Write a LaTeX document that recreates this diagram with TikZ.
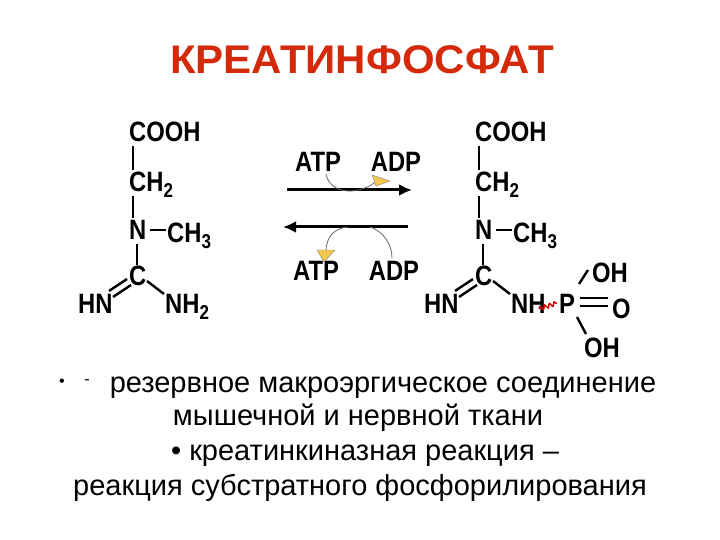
\documentclass[tikz,border=0pt]{standalone}
\usepackage{fontspec}
\setmainfont{Liberation Sans}
\usetikzlibrary{arrows.meta,decorations.pathmorphing}
\definecolor{ttl}{HTML}{D42A0A}
\definecolor{ylw}{HTML}{F2C94C}
\newcommand{\sbs}[1]{\raisebox{-6pt}{\fontsize{20}{22}\selectfont #1}}
\tikzset{
 chem/.style={font=\bfseries\fontsize{28}{30}\selectfont, xscale=0.85, inner sep=0pt, anchor=base west},
 bond/.style={line width=2.4pt},
 body/.style={font=\fontsize{29}{32}\selectfont, inner sep=0pt, anchor=base},
 rxn/.style={line width=3pt, -{Latex[length=13pt,width=12pt]}},
 curv/.style={draw=black!60, line width=0.8pt, fill=none},
}
\begin{document}
\begin{tikzpicture}[x=1pt,y=-1pt]
\useasboundingbox (0,0) rectangle (720,540);
\node[font=\bfseries\fontsize{40}{44}\selectfont, text=ttl, xscale=1.05] (title) at (362,60) {КРЕАТИНФОСФАТ};
% left molecule
\node[chem] (c1) at (129,142) {COOH};
\node[chem] (c2) at (129,192) {CH\sbs{2}};
\node[chem] (n1) at (129,240) {N};
\node[chem] (m1) at (167,242) {CH\sbs{3}};
\node[chem] (cc1) at (129,285) {C};
\node[chem] (hn1) at (78,313) {HN};
\node[chem] (nh1) at (165,313) {NH\sbs{2}};
\draw[bond] (133,146) -- (133,170);
\draw[bond] (133,196) -- (133,218);
\draw[bond] (150,230) -- (166,230);
\draw[bond] (137,244) -- (137,265);
\draw[bond] (109,291) -- (127,279);
\draw[bond] (113,297) -- (131,285);
\draw[bond] (147,281) -- (164,294);
% right molecule
\node[chem] (c3) at (475,142) {COOH};
\node[chem] (c4) at (475,192) {CH\sbs{2}};
\node[chem] (n2) at (475,240) {N};
\node[chem] (m2) at (513,242) {CH\sbs{3}};
\node[chem] (cc2) at (475,285) {C};
\node[chem] (hn2) at (424,313) {HN};
\node[chem] (nh2) at (511,313) {NH};
\node[chem] (p) at (559,313) {P};
\node[chem] (oh1) at (592,282) {OH};
\node[chem] (o) at (612,318) {O};
\node[chem] (oh2) at (584,357) {OH};
\draw[bond] (479,146) -- (479,170);
\draw[bond] (479,196) -- (479,218);
\draw[bond] (496,230) -- (512,230);
\draw[bond] (483,244) -- (483,265);
\draw[bond] (455,291) -- (473,279);
\draw[bond] (459,297) -- (477,285);
\draw[bond] (493,281) -- (510,294);
\draw[bond] (579,284) -- (588,270);
\draw[bond] (580,298) -- (608,298);
\draw[bond] (580,306) -- (608,306);
\draw[bond] (577,317) -- (586,334);
\draw[red!85!black, line width=1.4pt, decorate, decoration={snake,amplitude=2pt,segment length=5pt}] (539,309) -- (557,303);
% reaction arrows
\node[chem,anchor=base] (atp1) at (318,172) {ATP};
\node[chem,anchor=base] (adp1) at (396,172) {ADP};
\node[chem,anchor=base] (atp2) at (316,280) {ATP};
\node[chem,anchor=base] (adp2) at (394,280) {ADP};
\coordinate (a1s) at (287,190);
\coordinate (a1e) at (412,190);
\coordinate (a2s) at (408,227);
\coordinate (a2e) at (283,227);
\draw[rxn] (a1s) -- (a1e);
\draw[rxn] (a2s) -- (a2e);
\draw[curv] (326,174) .. controls (330,195) and (360,196) .. (378,180);
\fill[ylw,draw=black!50,line width=0.4pt] (372,175) -- (390,181) -- (376,186) -- cycle;
\draw[curv] (348,227) .. controls (335,228) and (326,236) .. (326,252);
\fill[ylw,draw=black!50,line width=0.4pt] (317,250) -- (335,250) -- (324,262) -- cycle;
\draw[curv] (370,227) .. controls (385,232) and (392,246) .. (392,258);
% text
\node[body] (l1) at (383,392) {резервное макроэргическое соединение};
\node[font=\fontsize{16}{18}\selectfont] (b1) at (62,383) {•};
\node[font=\fontsize{16}{18}\selectfont] (d1) at (87,382) {-};
\node[body] (l2) at (358,425) {мышечной и нервной ткани};
\node[body] (l3) at (365,460) {• креатинкиназная реакция –};
\node[body] (l4) at (360,495) {реакция субстратного фосфорилирования};
\end{tikzpicture}
\end{document}
